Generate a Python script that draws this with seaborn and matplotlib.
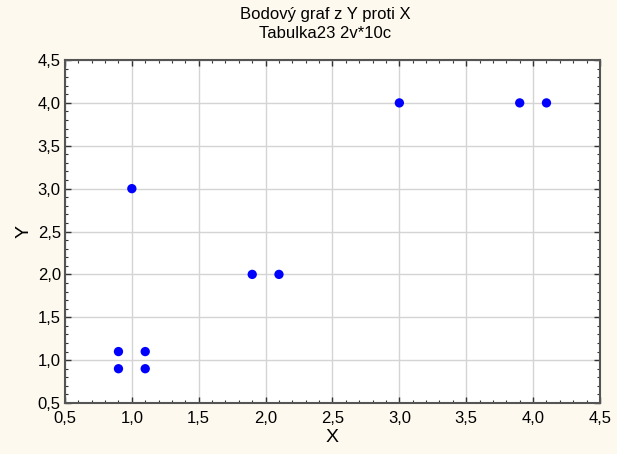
import matplotlib
matplotlib.use("Agg")
import matplotlib.pyplot as plt
import seaborn as sns
import pandas as pd
from matplotlib.ticker import MultipleLocator, FuncFormatter

x_vals = [0.9, 1.1, 0.9, 1.1, 1.0, 1.9, 2.1, 3.0, 3.9, 4.1]
y_vals = [1.1, 1.1, 0.9, 0.9, 3.0, 2.0, 2.0, 4.0, 4.0, 4.0]
title_lines = ["Bodový graf z Y proti X", "Tabulka23 2v*10c"]
x_label = "X"
y_label = "Y"

df = pd.DataFrame({"X": x_vals, "Y": y_vals})

sns.set_theme(style="white")
plt.rcParams["font.family"] = ["Liberation Sans", "DejaVu Sans"]

fig = plt.figure(figsize=(6.17, 4.54), dpi=100, facecolor="#fdf9ee")
ax = fig.add_axes([0.1053, 0.1123, 0.8671, 0.7555])
ax.set_facecolor("white")

sns.scatterplot(data=df, x="X", y="Y", ax=ax, color="#0000ff", s=45,
                edgecolor="none", zorder=3)

ax.set_xlim(0.5, 4.5)
ax.set_ylim(0.5, 4.5)
ax.xaxis.set_major_locator(MultipleLocator(0.5))
ax.yaxis.set_major_locator(MultipleLocator(0.5))
ax.xaxis.set_minor_locator(MultipleLocator(0.1))
ax.yaxis.set_minor_locator(MultipleLocator(0.1))
fmt = FuncFormatter(lambda v, p: f"{v:.1f}".replace(".", ","))
ax.xaxis.set_major_formatter(fmt)
ax.yaxis.set_major_formatter(fmt)

ax.grid(True, which="major", color="#d4d4d4", linewidth=1.0)
ax.tick_params(which="major", direction="in", length=4, width=1, color="#333333",
               labelsize=12, labelcolor="black", top=True, right=True, bottom=True, left=True)
ax.tick_params(axis="x", which="major", pad=6)
ax.tick_params(axis="y", which="major", pad=3)
ax.tick_params(which="minor", direction="in", length=2, width=0.8, color="#333333",
               top=True, right=True, bottom=True, left=True)
for sp in ax.spines.values():
    sp.set_color("#555555")
    sp.set_linewidth(1.5)

ax.set_xlabel(x_label, fontsize=14, labelpad=2, color="black")
ax.set_ylabel(y_label, fontsize=14, rotation=90, labelpad=4, color="black")

fig.text(0.527, 0.985, title_lines[0], ha="center", va="top", fontsize=12, color="black")
fig.text(0.527, 0.943, title_lines[1], ha="center", va="top", fontsize=12, color="black")

fig.savefig("out.png", dpi=100, facecolor=fig.get_facecolor())
